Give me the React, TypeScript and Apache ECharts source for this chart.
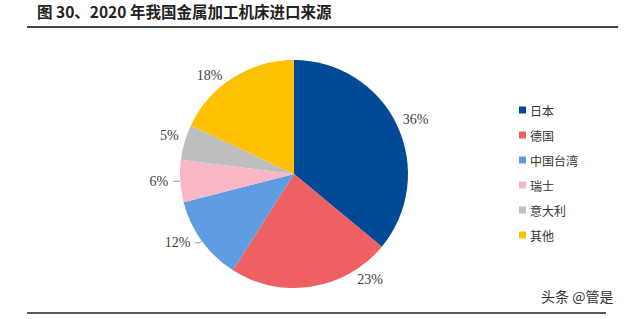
import React, { useEffect, useRef } from "react";
import * as echarts from "echarts";

const categories = ["日本", "德国", "中国台湾", "瑞士", "意大利", "其他"];
const values = [36, 23, 12, 6, 5, 18];
const colors = ["#034A96", "#EE6061", "#5E9DE2", "#F9B6C5", "#BEBEBE", "#FFC000"];
const showLeader = [false, false, true, true, false, false];
const titleText = "图 30、2020 年我国金属加工机床进口来源";
const watermark = "头条 @管是";

export default function App() {
  const ref = useRef<HTMLDivElement>(null);
  useEffect(() => {
    if (!ref.current) return;
    const chart = echarts.init(ref.current, null, { renderer: "svg" });
    chart.setOption({
      animation: false,
      backgroundColor: "#ffffff",
      color: colors,
      legend: {
        orient: "vertical",
        left: 514,
        top: 99,
        itemWidth: 7,
        itemHeight: 7,
        itemGap: 13,
        icon: "rect",
        data: categories,
        textStyle: {
          fontSize: 12,
          color: "#333",
          fontFamily: "Noto Sans CJK SC",
          padding: [0, 0, 0, -1],
        },
      },
      graphic: [
        {
          type: "text",
          left: 37,
          top: 3,
          style: {
            text: titleText,
            fontSize: 15.5,
            fontWeight: "bold",
            fill: "#222",
            fontFamily: "Noto Sans CJK SC",
          },
        },
        {
          type: "line",
          shape: { x1: 27, y1: 27, x2: 618, y2: 27 },
          style: { stroke: "#444", lineWidth: 2 },
        },
        {
          type: "line",
          shape: { x1: 27, y1: 313, x2: 606, y2: 313 },
          style: { stroke: "#222", lineWidth: 1.5 },
        },
        {
          type: "text",
          left: 541,
          top: 289,
          style: {
            text: watermark,
            fontSize: 14,
            fill: "#333",
            fontFamily: "Noto Sans CJK SC",
          },
        },
      ],
      series: [
        {
          type: "pie",
          center: [294, 174],
          radius: 114,
          startAngle: 90,
          clockwise: true,
          avoidLabelOverlap: false,
          data: categories.map((c, i) => ({
            name: c,
            value: values[i],
            labelLine: { show: showLeader[i] },
          })),
          label: {
            show: true,
            formatter: "{c}%",
            fontSize: 14,
            color: "#404040",
            fontFamily: "Liberation Serif",
          },
          labelLine: {
            show: true,
            length: 3,
            length2: 4,
            lineStyle: { color: "#999", width: 1 },
          },
          labelLayout: (p: any) => {
            if (p.dataIndex === 0) return { dx: -6, dy: -5 };
            if (p.dataIndex === 1) return { dx: 36, dy: -10 };
            if (p.dataIndex === 4) return { dx: 6, dy: -6 };
            return {};
          },
          itemStyle: { borderColor: "#fff", borderWidth: 0 },
        },
      ],
    });
    return () => chart.dispose();
  }, []);
  return (
    <div
      ref={ref}
      style={{ position: "fixed", left: 0, top: 0, width: 640, height: 319 }}
    />
  );
}
